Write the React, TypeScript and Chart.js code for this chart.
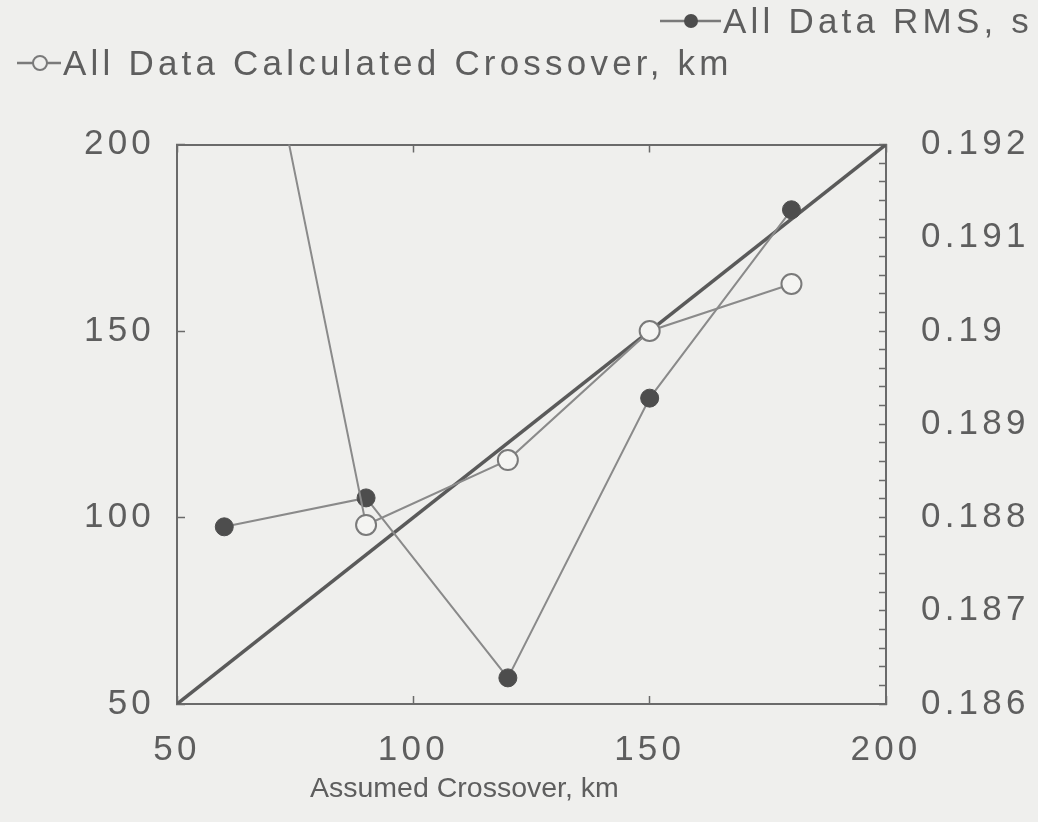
import React, { useEffect, useRef } from "react";
import { Chart, registerables } from "chart.js";

Chart.register(...registerables);

// ---- data ----
const assumedCrossover = [60, 90, 120, 150, 180];
const calculatedCrossover = [286, 98, 115.4, 150, 162.6];
const rmsValues = [0.1879, 0.18821, 0.18628, 0.18928, 0.1913];
const diagonalX = [50, 200];
const diagonalY = [50, 200];

const xTickValues = [50, 100, 150, 200];
const leftTickValues = [50, 100, 150, 200];
const rightMajorTicks = [0.186, 0.187, 0.188, 0.189, 0.19, 0.191, 0.192];

const rmsLabel = "All Data RMS, s";
const calcLabel = "All Data Calculated Crossover, km";
const xTitle = "Assumed Crossover, km";

const BG = "#efefed";
const TEXT = "#5e5e5e";
const FRAME = "#6a6a6a";
const LINE = "#8a8a8a";
const DOT = "#4d4d4d";
const FONT = '"Liberation Sans", Arial, sans-serif';
const SPACING = "4.2px";

const decor = {
  id: "decor",
  beforeDraw(chart: any) {
    const ctx = chart.ctx;
    ctx.save();
    ctx.fillStyle = BG;
    ctx.fillRect(0, 0, chart.width, chart.height);
    ctx.restore();
    ctx.letterSpacing = SPACING;
  },
  afterDraw(chart: any) {
    const ctx = chart.ctx;
    ctx.save();
    ctx.letterSpacing = "0px";
    ctx.fillStyle = TEXT;
    ctx.font = `28.5px ${FONT}`;
    ctx.textAlign = "left";
    ctx.textBaseline = "alphabetic";
    ctx.fillText(xTitle, 310, 797);

    ctx.letterSpacing = SPACING;
    ctx.font = `35px ${FONT}`;
    // legend item 1 (filled)
    ctx.strokeStyle = "#7a7a7a";
    ctx.lineWidth = 2.5;
    ctx.beginPath();
    ctx.moveTo(660, 21);
    ctx.lineTo(721, 21);
    ctx.stroke();
    ctx.fillStyle = DOT;
    ctx.beginPath();
    ctx.arc(691, 21, 7, 0, Math.PI * 2);
    ctx.fill();
    ctx.fillStyle = TEXT;
    ctx.fillText(chart.data.datasets[1].label, 723, 33);
    // legend item 2 (open)
    ctx.strokeStyle = "#7a7a7a";
    ctx.beginPath();
    ctx.moveTo(17, 63);
    ctx.lineTo(61, 63);
    ctx.stroke();
    ctx.fillStyle = BG;
    ctx.lineWidth = 2;
    ctx.beginPath();
    ctx.arc(40, 63, 7, 0, Math.PI * 2);
    ctx.fill();
    ctx.stroke();
    ctx.fillStyle = TEXT;
    ctx.fillText(chart.data.datasets[0].label, 63, 75);
    ctx.restore();
  },
};

const isMajor = (v: number) =>
  rightMajorTicks.some((m) => Math.abs(m - v) < 1e-7);

export default function App() {
  const ref = useRef<HTMLCanvasElement | null>(null);
  useEffect(() => {
    if (!ref.current) return;
    const tickFont = { family: FONT, size: 35 };
    const chart = new Chart(ref.current, {
      type: "line",
      data: {
        datasets: [
          {
            label: calcLabel,
            data: assumedCrossover.map((x, i) => ({ x, y: calculatedCrossover[i] })),
            yAxisID: "y",
            borderColor: LINE,
            borderWidth: 2,
            pointRadius: 10,
            pointBorderWidth: 2,
            pointBorderColor: "#7a7a7a",
            pointBackgroundColor: "#f4f4f2",
            fill: false,
            tension: 0,
          },
          {
            label: rmsLabel,
            data: assumedCrossover.map((x, i) => ({ x, y: rmsValues[i] })),
            yAxisID: "y2",
            borderColor: LINE,
            borderWidth: 2,
            pointRadius: 9,
            pointBorderWidth: 1,
            pointBorderColor: DOT,
            pointBackgroundColor: DOT,
            fill: false,
            tension: 0,
          },
          {
            label: "y = x",
            data: diagonalX.map((x, i) => ({ x, y: diagonalY[i] })),
            yAxisID: "y",
            borderColor: "#5a5a5a",
            borderWidth: 3.5,
            pointRadius: 0,
            fill: false,
            tension: 0,
          },
        ],
      },
      options: {
        responsive: false,
        animation: false,
        events: [],
        layout: { padding: 0 },
        plugins: {
          legend: { display: false },
          tooltip: { enabled: false },
          title: { display: false },
        },
        scales: {
          x: {
            type: "linear",
            position: "bottom",
            min: 50,
            max: 200,
            afterBuildTicks: (s: any) => {
              s.ticks = xTickValues.map((value) => ({ value }));
            },
            afterFit: (s: any) => {
              s.height = 118;
            },
            ticks: { font: tickFont, color: TEXT, padding: 33, maxRotation: 0 },
            grid: {
              drawOnChartArea: false,
              tickLength: -8,
              tickColor: FRAME,
              tickWidth: 1.5,
            },
            border: { color: FRAME, width: 2 },
          },
          x2: {
            type: "linear",
            position: "top",
            min: 50,
            max: 200,
            afterBuildTicks: (s: any) => {
              s.ticks = xTickValues.map((value) => ({ value }));
            },
            afterFit: (s: any) => {
              s.height = 144.5;
            },
            ticks: { callback: () => "", font: { size: 1 } },
            grid: {
              drawOnChartArea: false,
              tickLength: -8,
              tickColor: FRAME,
              tickWidth: 1.5,
            },
            border: { color: FRAME, width: 2 },
          },
          y: {
            type: "linear",
            position: "left",
            min: 50,
            max: 200,
            afterBuildTicks: (s: any) => {
              s.ticks = leftTickValues.map((value) => ({ value }));
            },
            afterFit: (s: any) => {
              s.width = 177;
            },
            ticks: { font: tickFont, color: TEXT, padding: 30 },
            grid: {
              drawOnChartArea: false,
              tickLength: -8,
              tickColor: FRAME,
              tickWidth: 1.5,
            },
            border: { color: FRAME, width: 2 },
          },
          y2: {
            type: "linear",
            position: "right",
            min: 0.186,
            max: 0.192,
            ticks: {
              stepSize: 0.0002,
              font: tickFont,
              color: TEXT,
              padding: 42,
              autoSkip: false,
              callback: (v: any) =>
                isMajor(Number(v)) ? String(parseFloat(Number(v).toFixed(3))) : "",
            },
            afterFit: (s: any) => {
              s.width = 152;
            },
            grid: {
              drawOnChartArea: false,
              tickLength: -7,
              tickColor: FRAME,
              tickWidth: 1.5,
            },
            border: { color: FRAME, width: 2 },
          },
        },
      },
      plugins: [decor],
    });
    return () => chart.destroy();
  }, []);
  return (
    <div style={{ position: "fixed", left: 0, top: 0, width: 1038, height: 822, background: BG }}>
      <canvas ref={ref} width={1038} height={822} />
    </div>
  );
}
